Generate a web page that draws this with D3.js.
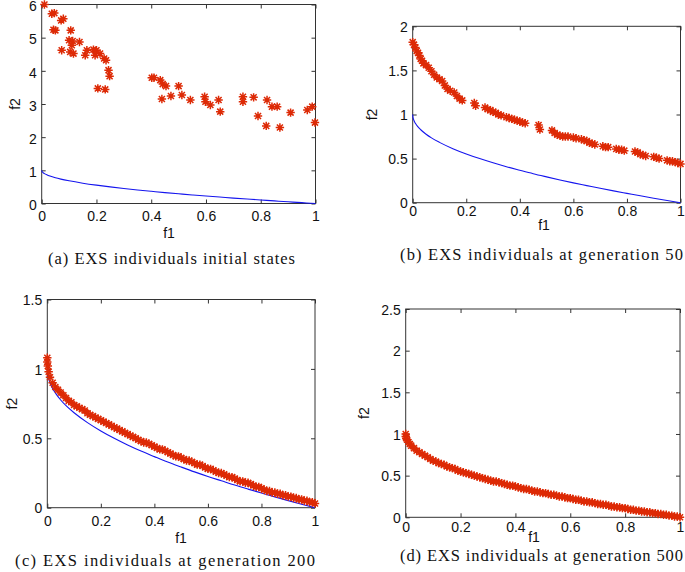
<!DOCTYPE html>
<html>
<head>
<meta charset="utf-8">
<script src="https://cdn.jsdelivr.net/npm/d3@7"></script>
<style>
  body { margin: 0; background: #fff; }
  svg text { fill: #111; }
</style>
</head>
<body>
<div id="chart"></div>
<script>
// true Pareto front (blue line)
var frontF1 = [0, 0.001, 0.0025, 0.005, 0.01, 0.02, 0.03, 0.05, 0.07, 0.1, 0.15, 0.2, 0.25, 0.3,
  0.35, 0.4, 0.45, 0.5, 0.55, 0.6, 0.65, 0.7, 0.75, 0.8, 0.85, 0.9, 0.95, 1];
var frontF2 = [1, 0.968, 0.95, 0.929, 0.9, 0.859, 0.827, 0.776, 0.735, 0.684, 0.613, 0.553, 0.5, 0.452,
  0.408, 0.368, 0.329, 0.293, 0.258, 0.225, 0.194, 0.163, 0.134, 0.106, 0.078, 0.051, 0.025, 0];

// (a) initial states
var initF1 = [0.01, 0.037, 0.046, 0.043, 0.05, 0.071, 0.079, 0.073, 0.106, 0.1, 0.113, 0.11, 0.104, 0.116,
  0.138, 0.159, 0.165, 0.189, 0.2, 0.195, 0.213, 0.228, 0.235, 0.244, 0.248, 0.205, 0.232,
  0.402, 0.41, 0.433, 0.442, 0.454, 0.439, 0.472, 0.5, 0.512, 0.543, 0.595, 0.598, 0.616, 0.646,
  0.652, 0.735, 0.735, 0.774, 0.79, 0.82, 0.823, 0.841, 0.86, 0.87, 0.909, 0.97, 0.988, 0.998];
var initF2 = [6.0, 5.72, 5.74, 5.24, 5.22, 5.52, 5.57, 4.62, 5.22, 4.92, 4.9, 4.77, 4.57, 4.52,
  4.87, 4.47, 4.62, 4.64, 4.62, 4.47, 4.52, 4.37, 4.32, 4.02, 3.84, 3.47, 3.44,
  3.79, 3.79, 3.72, 3.6, 3.54, 3.15, 3.24, 3.54, 3.27, 3.12, 3.22, 3.07, 2.97, 3.12,
  2.77, 3.22, 3.07, 3.2, 2.64, 2.34, 3.12, 2.92, 2.92, 2.29, 2.74, 2.82, 2.92, 2.44];

// (b) generation 50
var gen50F1 = [0, 0.005, 0.01, 0.015, 0.02, 0.025, 0.03, 0.035, 0.04, 0.05, 0.06, 0.07, 0.08, 0.09, 0.1,
  0.11, 0.12, 0.13, 0.14, 0.155, 0.165, 0.175, 0.185, 0.23, 0.235, 0.27, 0.28, 0.29, 0.3, 0.31, 0.32,
  0.33, 0.35, 0.36, 0.37, 0.38, 0.39, 0.4, 0.41, 0.42, 0.47, 0.475, 0.52, 0.53, 0.54, 0.55, 0.56, 0.57,
  0.58, 0.6, 0.61, 0.63, 0.64, 0.65, 0.66, 0.67, 0.68, 0.71, 0.72, 0.73, 0.76, 0.77, 0.78, 0.79,
  0.83, 0.84, 0.85, 0.86, 0.87, 0.9, 0.91, 0.92, 0.95, 0.96, 0.97, 0.98, 0.99, 1.0];
var gen50F2 = [1.82, 1.79, 1.76, 1.72, 1.7, 1.67, 1.63, 1.61, 1.58, 1.56, 1.53, 1.49, 1.45, 1.42, 1.4,
  1.38, 1.33, 1.29, 1.27, 1.25, 1.21, 1.18, 1.16, 1.13, 1.1, 1.08, 1.06, 1.05, 1.03, 1.02, 1.0,
  0.99, 0.97, 0.96, 0.95, 0.94, 0.93, 0.92, 0.91, 0.9, 0.88, 0.83, 0.82, 0.79, 0.77, 0.76, 0.75, 0.75,
  0.75, 0.74, 0.73, 0.72, 0.71, 0.7, 0.68, 0.67, 0.66, 0.64, 0.63, 0.63, 0.61, 0.6, 0.6, 0.59,
  0.58, 0.57, 0.55, 0.54, 0.53, 0.52, 0.51, 0.5, 0.48, 0.47, 0.47, 0.46, 0.45, 0.44];

// (c) generation 200
var gen200F1 = [0, 0, 0.002, 0.005, 0.01, 0.02, 0.03, 0.04, 0.05, 0.06, 0.07, 0.08, 0.09, 0.1, 0.11,
  0.12, 0.13, 0.14, 0.15, 0.16, 0.17, 0.18, 0.19, 0.2, 0.21, 0.22, 0.23, 0.24, 0.25, 0.26, 0.27, 0.28,
  0.29, 0.3, 0.31, 0.32, 0.33, 0.34, 0.35, 0.36, 0.37, 0.38, 0.39, 0.4, 0.41, 0.42, 0.43, 0.44, 0.45,
  0.46, 0.47, 0.48, 0.49, 0.5, 0.51, 0.52, 0.53, 0.54, 0.55, 0.56, 0.57, 0.58, 0.59, 0.6, 0.61, 0.62,
  0.63, 0.64, 0.65, 0.66, 0.67, 0.68, 0.69, 0.7, 0.71, 0.72, 0.73, 0.74, 0.75, 0.76, 0.77, 0.78, 0.79,
  0.8, 0.81, 0.82, 0.83, 0.84, 0.85, 0.86, 0.87, 0.88, 0.89, 0.9, 0.91, 0.92, 0.93, 0.94, 0.95, 0.96,
  0.97, 0.98, 0.99, 1.0];
var gen200F2 = [1.08, 1.05, 1.02, 0.98, 0.94, 0.9, 0.87, 0.85, 0.83, 0.81, 0.79, 0.77, 0.76, 0.74, 0.73,
  0.72, 0.71, 0.7, 0.68, 0.67, 0.66, 0.65, 0.64, 0.63, 0.62, 0.61, 0.6, 0.59, 0.58, 0.57, 0.56, 0.55,
  0.54, 0.53, 0.52, 0.51, 0.5, 0.49, 0.48, 0.47, 0.47, 0.46, 0.45, 0.44, 0.43, 0.42, 0.42, 0.41, 0.4,
  0.39, 0.38, 0.37, 0.37, 0.36, 0.35, 0.34, 0.34, 0.33, 0.32, 0.31, 0.31, 0.3, 0.29, 0.28, 0.28, 0.27,
  0.26, 0.25, 0.25, 0.24, 0.23, 0.22, 0.22, 0.21, 0.2, 0.19, 0.19, 0.18, 0.18, 0.17, 0.16, 0.15, 0.15,
  0.14, 0.13, 0.12, 0.12, 0.11, 0.11, 0.1, 0.1, 0.09, 0.09, 0.08, 0.08, 0.07, 0.07, 0.06, 0.06, 0.05,
  0.05, 0.04, 0.04, 0.03];

// (d) generation 500
var gen500F1 = [0, 0, 0.002, 0.005, 0.01, 0.015, 0.02, 0.03, 0.04, 0.05, 0.06, 0.07, 0.08, 0.09, 0.1,
  0.11, 0.12, 0.13, 0.14, 0.15, 0.16, 0.17, 0.18, 0.19, 0.2, 0.21, 0.22, 0.23, 0.24, 0.25, 0.26, 0.27,
  0.28, 0.29, 0.3, 0.31, 0.32, 0.33, 0.34, 0.35, 0.36, 0.37, 0.38, 0.39, 0.4, 0.41, 0.42, 0.43, 0.44,
  0.45, 0.46, 0.47, 0.48, 0.49, 0.5, 0.51, 0.52, 0.53, 0.54, 0.55, 0.56, 0.57, 0.58, 0.59, 0.6, 0.61,
  0.62, 0.63, 0.64, 0.65, 0.66, 0.67, 0.68, 0.69, 0.7, 0.71, 0.72, 0.73, 0.74, 0.75, 0.76, 0.77, 0.78,
  0.79, 0.8, 0.81, 0.82, 0.83, 0.84, 0.85, 0.86, 0.87, 0.88, 0.89, 0.9, 0.91, 0.92, 0.93, 0.94, 0.95,
  0.96, 0.97, 0.98, 0.99, 1.0];
var gen500F2 = [1.0, 0.97, 0.95, 0.93, 0.9, 0.88, 0.86, 0.83, 0.8, 0.78, 0.76, 0.74, 0.72, 0.7, 0.68,
  0.67, 0.65, 0.64, 0.63, 0.61, 0.6, 0.59, 0.58, 0.56, 0.55, 0.54, 0.53, 0.52, 0.51, 0.5, 0.49, 0.48,
  0.47, 0.46, 0.45, 0.44, 0.43, 0.43, 0.42, 0.41, 0.4, 0.39, 0.38, 0.38, 0.37, 0.36, 0.35, 0.34, 0.34,
  0.33, 0.32, 0.31, 0.31, 0.3, 0.29, 0.29, 0.28, 0.27, 0.27, 0.26, 0.25, 0.25, 0.24, 0.23, 0.23, 0.22,
  0.21, 0.21, 0.2, 0.19, 0.19, 0.18, 0.18, 0.17, 0.16, 0.16, 0.15, 0.15, 0.14, 0.13, 0.13, 0.12, 0.12,
  0.11, 0.11, 0.1, 0.09, 0.09, 0.08, 0.08, 0.07, 0.07, 0.06, 0.06, 0.05, 0.05, 0.04, 0.04, 0.03, 0.03,
  0.02, 0.02, 0.01, 0.01, 0.0];

var xTicks = [0, 0.2, 0.4, 0.6, 0.8, 1];
var yTicksA = [0, 1, 2, 3, 4, 5, 6];
var yTicksB = [0, 0.5, 1, 1.5, 2];
var yTicksC = [0, 0.5, 1, 1.5];
var yTicksD = [0, 0.5, 1, 1.5, 2, 2.5];

var captions = ["(a) EXS individuals initial states",
  "(b) EXS individuals at generation 50",
  "(c) EXS individuals at generation 200",
  "(d) EXS individuals at generation 500"];

var zip = function(a, b) { return a.map(function(v, i) { return [v, b[i]]; }); };

// one entry per sub-figure: plot box, label offsets, caption placement
var panels = [
  { x0: 41.7, x1: 315.5, y0: 4.5, y1: 203.5, ymax: 6, yticks: yTicksA, pts: zip(initF1, initF2),
    tickDy: 19, ylabX: 15, xlabX: 169, xlabY: 238, cap: captions[0], capX: 48, capY: 264, capW: 247, ydy: "0.44em" },
  { x0: 412.7, x1: 680.5, y0: 26.3, y1: 202.7, ymax: 2, yticks: yTicksB, pts: zip(gen50F1, gen50F2),
    tickDy: 14, ylabX: 372, xlabX: 544, xlabY: 230, cap: captions[1], capX: 400, capY: 260, capW: 283, ydy: "0.37em" },
  { x0: 47.3, x1: 315, y0: 299.5, y1: 507.7, ymax: 1.5, yticks: yTicksC, pts: zip(gen200F1, gen200F2),
    tickDy: 19, ylabX: 12, xlabX: 181, xlabY: 543, cap: captions[2], capX: 15, capY: 566, capW: 300, ydy: "0.37em" },
  { x0: 405.7, x1: 680, y0: 309, y1: 517.3, ymax: 2.5, yticks: yTicksD, pts: zip(gen500F1, gen500F2),
    tickDy: 16, ylabX: 364, xlabX: 534, xlabY: 542, cap: captions[3], capX: 400, capY: 561, capW: 283, ydy: "0.37em" }
];

var svg = d3.select("#chart").append("svg")
  .attr("width", 685).attr("height", 572);

var red = "#dd2a06";
var axisCol = "#333";
var sans = "Liberation Sans, Arial, sans-serif";

panels.forEach(function(p) {
  var x = d3.scaleLinear().domain([0, 1]).range([p.x0, p.x1]);
  var y = d3.scaleLinear().domain([0, p.ymax]).range([p.y1, p.y0]);
  var g = svg.append("g");

  // ticks on all four sides, pointing inward
  var fmt = function(d) { return String(d); };
  g.append("g").attr("transform", "translate(0," + p.y1 + ")")
    .call(d3.axisBottom(x).tickValues(xTicks).tickSizeInner(-4).tickSizeOuter(0).tickPadding(p.tickDy - 11).tickFormat(fmt));
  g.append("g").attr("transform", "translate(0," + p.y0 + ")")
    .call(d3.axisTop(x).tickValues(xTicks).tickSizeInner(-4).tickSizeOuter(0).tickFormat(""));
  g.append("g").attr("class", "yax").attr("transform", "translate(" + p.x0 + ",0)")
    .call(d3.axisLeft(y).tickValues(p.yticks).tickSizeInner(-4).tickSizeOuter(0).tickPadding(5).tickFormat(fmt));
  g.append("g").attr("transform", "translate(" + p.x1 + ",0)")
    .call(d3.axisRight(y).tickValues(p.yticks).tickSizeInner(-4).tickSizeOuter(0).tickFormat(""));

  g.selectAll(".domain").remove();
  g.selectAll(".tick line").attr("stroke", axisCol);
  g.selectAll(".tick text").attr("font-family", sans)
    .attr("font-size", 14).attr("fill", "#111");
  g.selectAll(".yax .tick text").attr("dy", p.ydy);

  g.append("rect").attr("x", p.x0).attr("y", p.y0)
    .attr("width", p.x1 - p.x0).attr("height", p.y1 - p.y0)
    .attr("fill", "none").attr("stroke", axisCol).attr("stroke-width", 1);

  // Pareto front
  g.append("path").datum(zip(frontF1, frontF2))
    .attr("fill", "none").attr("stroke", "#1515ee").attr("stroke-width", 1.1)
    .attr("d", d3.line().x(function(d) { return x(d[0]); }).y(function(d) { return y(d[1]); }).curve(d3.curveMonotoneX));

  // asterisk markers
  var r = 4.2, rd = r * 0.72;
  var star = "M" + (-r) + ",0H" + r + "M0," + (-r) + "V" + r +
    "M" + (-rd) + "," + (-rd) + "L" + rd + "," + rd + "M" + (-rd) + "," + rd + "L" + rd + "," + (-rd);
  g.selectAll("path.pt").data(p.pts).enter().append("path")
    .attr("class", "pt")
    .attr("d", star)
    .attr("transform", function(d) { return "translate(" + x(d[0]) + "," + y(d[1]) + ")"; })
    .attr("stroke", red).attr("stroke-width", 1.5).attr("fill", "none");

  g.append("text").attr("x", p.xlabX).attr("y", p.xlabY)
    .attr("text-anchor", "middle")
    .attr("font-family", sans).attr("font-size", 14)
    .text("f1");
  g.append("text")
    .attr("transform", "translate(" + (p.ylabX + 5) + "," + ((p.y0 + p.y1) / 2) + ") rotate(-90)")
    .attr("text-anchor", "middle")
    .attr("font-family", sans).attr("font-size", 14)
    .text("f2");

  g.append("text").attr("x", p.capX).attr("y", p.capY)
    .attr("font-family", "Liberation Serif, Times New Roman, serif").attr("font-size", 16.5)
    .attr("textLength", p.capW).attr("lengthAdjust", "spacing")
    .text(p.cap);
});
</script>
</body>
</html>
